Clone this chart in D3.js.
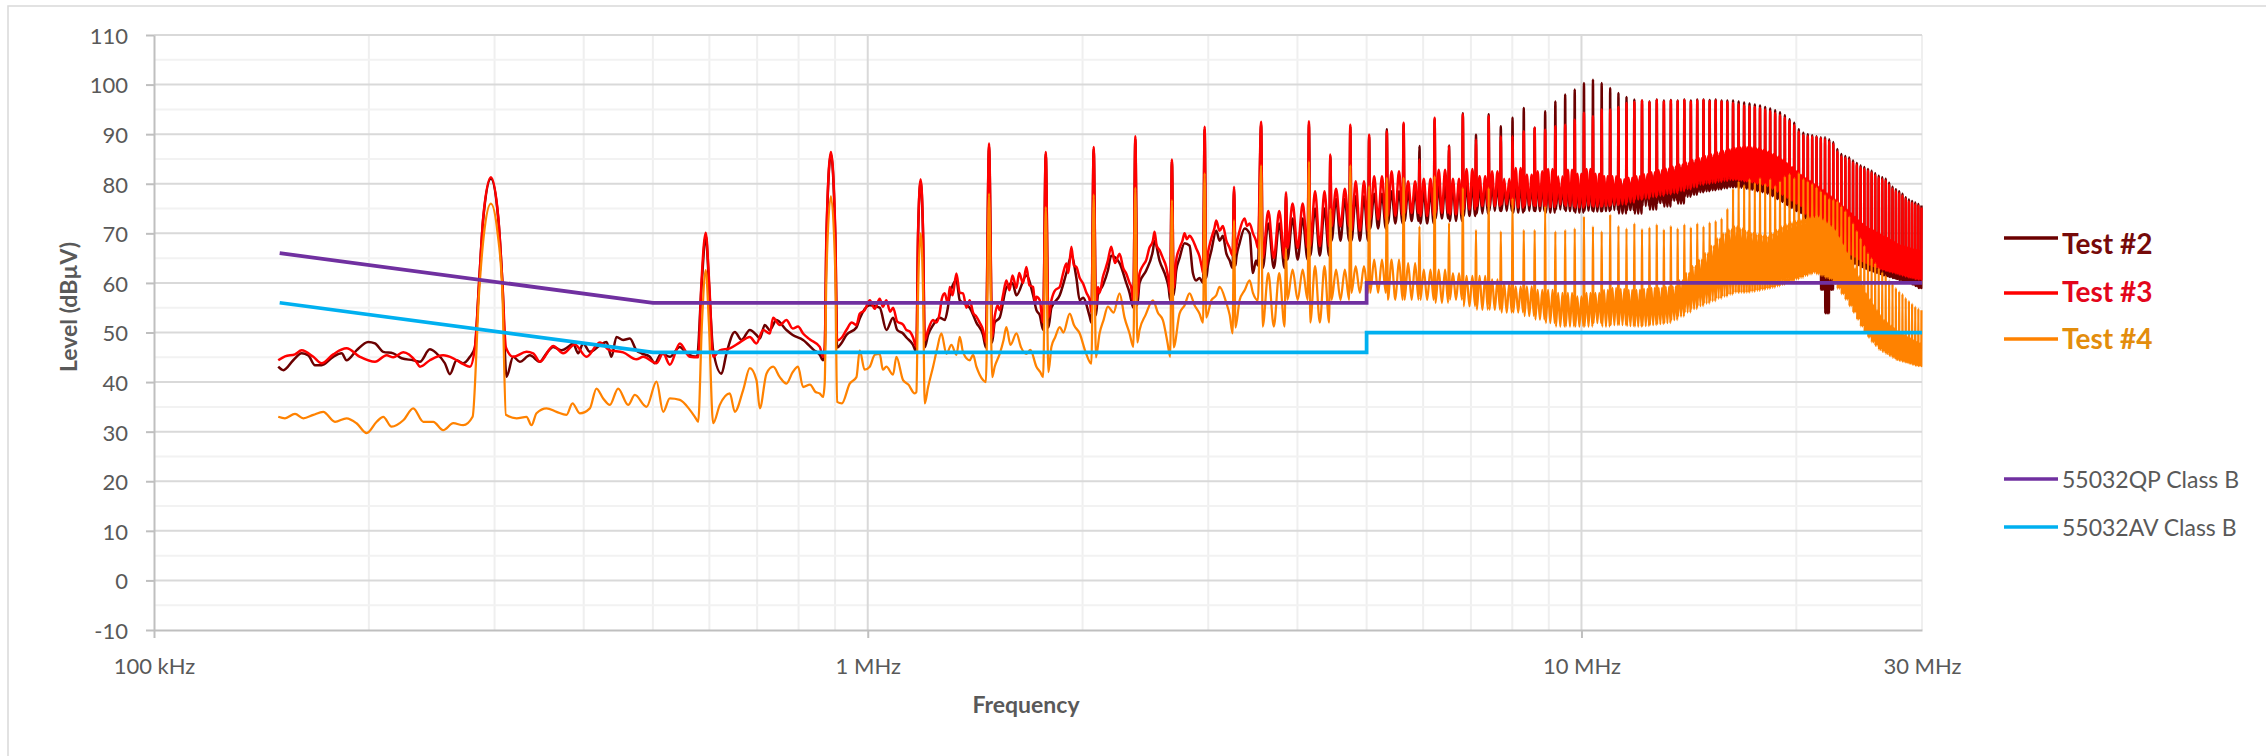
<!DOCTYPE html>
<html>
<head>
<meta charset="utf-8">
<script src="https://cdn.jsdelivr.net/npm/d3@7"></script>
<style>
  html, body { margin: 0; padding: 0; background: #fff; overflow: hidden; }
  svg { display: block; width: 100vw; height: 100vh; font-family: Lato, "Open Sans", sans-serif; }
</style>
</head>
<body>
<svg id="chart" viewBox="0 0 2266 756" preserveAspectRatio="xMidYMid meet"></svg>
<script>
// ---- axis ticks / labels ----
const freqTicks = [0.1, 1, 10, 30];
const freqTickLabels = ['100 kHz', '1 MHz', '10 MHz', '30 MHz'];
const levelTicks = [-10, 0, 10, 20, 30, 40, 50, 60, 70, 80, 90, 100, 110];

const seriesNames = ['Test #2', 'Test #3', 'Test #4'];
const limitNames = ['55032QP Class B', '55032AV Class B'];

// ---- limit lines [MHz, dBuV] ----
const qpLimit = [[0.15, 66], [0.5, 56], [5, 56], [5, 60], [30, 60]];
const avLimit = [[0.15, 56], [0.5, 46], [5, 46], [5, 50], [30, 50]];

// ---- measured traces below 3.55 MHz [MHz, dBuV] ----
const test2Low = [
  [0.1493,43.1],[0.1518,42.4],[0.1567,44.4],[0.1610,45.8],[0.1645,45.4],[0.1681,43.4],[0.1717,43.4],[0.1783,45.1],
  [0.1832,45.8],[0.1861,44.4],[0.1922,46.4],[0.1996,48.1],[0.2040,47.8],[0.2095,46.1],[0.2164,45.8],[0.2223,44.8],
  [0.2308,44.4],[0.2358,44.1],[0.2435,46.6],[0.2488,45.8],[0.2556,43.8],[0.2598,41.6],[0.2654,44.4],[0.2712,43.8],
  [0.2771,45.1],[0.2816,47],[0.2854,60],[0.2893,73],[0.2965,81],[0.3036,73],[0.3077,60],[0.3118,41.1],
  [0.3186,45.1],[0.3255,44.1],[0.3362,45.4],[0.3472,44.1],[0.3548,45.8],[0.3625,47.1],[0.3724,46.4],[0.3805,47.1],
  [0.3866,47.8],[0.3929,45.8],[0.3993,47.8],[0.4080,46.1],[0.4213,47.4],[0.4305,48.1],[0.4375,45.1],[0.4446,49.1],
  [0.4543,48.5],[0.4642,48.8],[0.4742,46.4],[0.4820,45.8],[0.4951,45.1],[0.5031,43.8],[0.5141,45.8],[0.5281,45.1],
  [0.5454,47.1],[0.5573,45.8],[0.5766,45.1],[0.5848,59],[0.593,69.5],[0.5996,59],[0.6073,46.4],[0.6239,41.7],
  [0.6340,45.8],[0.6513,50.1],[0.6654,48.5],[0.6836,50.5],[0.6984,49.5],[0.7060,48.8],[0.7174,51.5],[0.7291,50.5],
  [0.7450,52.5],[0.7693,50.5],[0.7850,49.5],[0.8117,48.5],[0.8400,46.5],[0.8566,45.5],[0.8658,44.4],[0.8705,46],
  [0.8753,69],[0.888,86],[0.9007,69],[0.9059,47],[0.9200,48.0],[0.9335,49.5],[0.9642,51.0],[0.9745,52.8],
  [1.0065,55.5],[1.0394,55.0],[1.0620,50.5],[1.0852,53.0],[1.1000,50.5],[1.1207,49.8],[1.1329,49.0],[1.1575,47.5],
  [1.1700,46.0],[1.1763,69.5],[1.186,80.5],[1.1955,69.5],[1.2019,47.0],[1.2150,49.5],[1.2347,51.5],[1.2615,53.0],
  [1.2820,52.5],[1.2950,55.0],[1.3029,57.5],[1.3312,60.5],[1.3456,56.5],[1.3601,56.0],[1.3896,55.0],[1.4198,52.0],
  [1.4506,49.5],[1.4640,47.0],[1.479,87.5],[1.4940,48.0],[1.5062,52.0],[1.5307,53.0],[1.5639,59.0],[1.5950,60.0],
  [1.6156,57.5],[1.6686,61.5],[1.7049,57.5],[1.7233,54.5],[1.7419,53.5],[1.7610,50.5],[1.776,86],[1.7910,51],
  [1.8087,55.0],[1.8578,57.5],[1.8982,62.0],[1.9290,65.5],[1.9604,61.0],[1.9816,56.5],[2.0030,57.0],[2.0465,53.2],
  [2.0580,52.0],[2.073,87],[2.0880,53.5],[2.1012,57.5],[2.1354,59.5],[2.1701,62.5],[2.1936,65.5],[2.2534,64.0],
  [2.3023,60.0],[2.3272,58.0],[2.3397,56.5],[2.3560,55],[2.371,89],[2.3860,55.5],[2.4035,60.0],[2.4557,62.5],
  [2.5091,66.5],[2.5226,68.5],[2.5636,64.5],[2.6194,61.0],[2.6400,59.0],[2.6530,56.5],[2.668,84.5],[2.6830,57.5],
  [2.7053,62.5],[2.7345,65.0],[2.7790,68.0],[2.8242,67.5],[2.8547,62.0],[2.8850,60.5],[2.9168,61.0],[2.9500,60.0],
  [2.965,91],[2.9800,61],[2.9965,63.5],[3.0300,66.5],[3.0782,70.5],[3.1117,68.5],[3.1450,69.5],[3.1793,66.0],
  [3.2150,64.5],[3.2450,63.0],[3.26,79],[3.2750,63.5],[3.2835,65.0],[3.3190,68.0],[3.3731,71.0],[3.4280,70.0],
  [3.4650,62.0],[3.5000,64.5],[3.5214,63.5]
];

const test3Low = [
  [0.1493,44.4],[0.1526,45.2],[0.1576,45.6],[0.1610,46.4],[0.1672,45.1],[0.1717,43.8],[0.1783,45.6],[0.1861,46.8],
  [0.1943,45.1],[0.2040,44.1],[0.2118,45.4],[0.2164,45.0],[0.2235,46.0],[0.2333,44.0],[0.2358,43.1],[0.2435,44.4],
  [0.2542,45.4],[0.2626,44.8],[0.2712,43.6],[0.2771,43.1],[0.2816,47],[0.2854,60],[0.2893,73.3],[0.2965,81.3],
  [0.3036,73.3],[0.3077,60],[0.3112,47],[0.3186,45.1],[0.3326,46.1],[0.3398,45.8],[0.3472,44.1],[0.3625,47.3],
  [0.3744,45.8],[0.3887,47.6],[0.4036,45.1],[0.4213,48.0],[0.4352,46.4],[0.4543,46.0],[0.4742,44.6],[0.4846,45.1],
  [0.5059,43.8],[0.5169,45.8],[0.5281,43.5],[0.5454,47.8],[0.5633,45.1],[0.5787,45.0],[0.5848,60],[0.593,70.1],
  [0.5996,60],[0.6073,45.1],[0.6205,46.4],[0.6409,46.8],[0.6619,48.0],[0.6836,49.1],[0.6984,47.8],[0.7136,50.5],
  [0.7291,49.8],[0.7370,53.0],[0.7530,51.5],[0.7693,52.5],[0.7850,50.8],[0.7987,51.2],[0.8117,49.8],[0.8300,48.6],
  [0.8566,47.1],[0.8658,45.1],[0.8705,47],[0.8753,70],[0.888,86.4],[0.9007,70],[0.9059,48.4],[0.9200,49.0],
  [0.9335,50.5],[0.9500,52.0],[0.9642,51.5],[0.9745,53.8],[0.9900,54.5],[1.0065,56.5],[1.0230,54.8],[1.0394,56.8],
  [1.0500,55.2],[1.0620,56.5],[1.0750,54.2],[1.0852,55.0],[1.1000,52.2],[1.1207,51.6],[1.1329,50.5],[1.1450,50.2],
  [1.1575,49.0],[1.1700,47.1],[1.1763,70],[1.186,80.9],[1.1955,70],[1.2019,48.4],[1.2150,50.5],[1.2347,52.5],
  [1.2480,52.0],[1.2615,54.0],[1.2700,56.8],[1.2820,57.9],[1.2950,55.8],[1.3029,59.2],[1.3150,57.5],[1.3312,61.9],
  [1.3456,58.0],[1.3601,57.9],[1.3750,55.0],[1.3896,56.5],[1.4050,54.0],[1.4198,53.2],[1.4350,52.0],[1.4506,50.5],
  [1.4640,48.0],[1.479,88.1],[1.4940,49.0],[1.5062,53.2],[1.5200,55.5],[1.5307,54.5],[1.5472,57.5],[1.5639,60.5],
  [1.5800,58.5],[1.5950,61.5],[1.6156,59.0],[1.6300,62.0],[1.6500,60.0],[1.6686,63.2],[1.6850,59.5],[1.7049,59.2],
  [1.7150,56.0],[1.7233,57.2],[1.7419,56.5],[1.7550,53.0],[1.7610,52.0],[1.776,86.4],[1.7910,53],[1.8087,56.5],
  [1.8300,58.5],[1.8578,59.2],[1.8750,61.5],[1.8982,63.9],[1.9100,62.0],[1.9290,67.3],[1.9450,63.5],[1.9604,63.2],
  [1.9816,61.0],[2.0030,59.9],[2.0250,58.0],[2.0465,56.5],[2.0580,54.0],[2.073,87.4],[2.0880,55.0],[2.1012,59.2],
  [2.1126,58.0],[2.1354,61.2],[2.1550,63.0],[2.1701,64.5],[2.1936,67.3],[2.2200,64.0],[2.2534,65.9],[2.2800,63.0],
  [2.3023,61.9],[2.3272,60.0],[2.3397,59.2],[2.3560,56],[2.371,89.6],[2.3860,57],[2.4035,61.9],[2.4300,63.5],
  [2.4557,64.6],[2.4800,67.0],[2.5091,68.5],[2.5226,70.3],[2.5400,67.5],[2.5636,66.6],[2.5913,65.0],[2.6194,63.2],
  [2.6400,60.5],[2.6530,58],[2.668,84.9],[2.6830,59],[2.7053,64.6],[2.7345,67.0],[2.7600,68.5],[2.7790,70.0],
  [2.8000,68.8],[2.8242,69.5],[2.8547,68.6],[2.8850,67.0],[2.9168,65.3],[2.9400,63.0],[2.9500,62],[2.965,91.5],
  [2.9800,63],[2.9965,65.9],[3.0300,69.0],[3.0600,71.0],[3.0782,72.6],[3.1117,70.5],[3.1450,71.5],[3.1793,68.6],
  [3.2150,67.0],[3.2450,65.5],[3.26,79.4],[3.2750,66],[3.2835,67.3],[3.3190,70.5],[3.3731,73.0],[3.4000,71.5],
  [3.4280,72.0],[3.4650,70.0],[3.5000,68.5],[3.5214,67.0]
];

const test4Low = [
  [0.1493,33.0],[0.1526,32.7],[0.1576,33.6],[0.1619,32.7],[0.1672,33.4],[0.1726,34.0],[0.1793,32.0],[0.1861,32.7],
  [0.1922,31.7],[0.1986,29.7],[0.2051,32.0],[0.2095,33.0],[0.2152,31.0],[0.2235,32.3],[0.2308,34.7],[0.2384,32.0],
  [0.2462,32.0],[0.2542,30.3],[0.2626,31.7],[0.2712,31.3],[0.2795,33.0],[0.2854,58],[0.2900,70],[0.2965,76.0],
  [0.3030,70],[0.3077,58],[0.3112,33.4],[0.3221,32.7],[0.3326,33.0],[0.3380,31.3],[0.3435,33.7],[0.3548,34.7],
  [0.3664,34.0],[0.3784,33.4],[0.3858,35.7],[0.3950,33.7],[0.4080,34.7],[0.4168,38.7],[0.4259,36.7],[0.4352,35.4],
  [0.4470,38.7],[0.4617,35.4],[0.4717,37.4],[0.4898,35.0],[0.5059,40.1],[0.5169,34.0],[0.5281,36.7],[0.5454,36.4],
  [0.5633,34.4],[0.5725,33.0],[0.5787,32.0],[0.5858,52],[0.593,62.6],[0.5990,52],[0.6073,31.7],[0.6205,35.4],
  [0.6409,37.7],[0.6513,34.0],[0.6690,38.4],[0.6836,42.8],[0.6984,40.4],[0.7060,34.7],[0.7213,41.7],[0.7370,43.1],
  [0.7530,41.0],[0.7693,39.7],[0.7850,42.0],[0.7987,43.1],[0.8117,39.0],[0.8300,39.5],[0.8450,38.0],[0.8566,37.7],
  [0.8658,37.0],[0.8705,40],[0.8753,62],[0.888,77.5],[0.9007,62],[0.9059,36],[0.9200,35.7],[0.9436,39.7],
  [0.9642,41.0],[0.9745,46.4],[0.9900,42.5],[1.0065,43.1],[1.0230,45.5],[1.0394,45.7],[1.0500,42.5],[1.0620,43.1],
  [1.0852,41.5],[1.0969,45.1],[1.1207,40.4],[1.1400,39.5],[1.1637,37.7],[1.1700,38],[1.1763,58],[1.186,70.0],
  [1.1955,58],[1.2019,35.7],[1.2150,39.0],[1.2347,43.1],[1.2500,46.5],[1.2683,49.8],[1.2889,45.7],[1.3100,47.5],
  [1.3312,45.5],[1.3456,49.1],[1.3601,46.0],[1.3896,44.4],[1.4050,45.5],[1.4198,43.1],[1.4350,41.5],[1.4506,40.4],
  [1.4640,40],[1.479,78.0],[1.4940,41],[1.5062,43.1],[1.5307,45.7],[1.5500,48.5],[1.5639,51.1],[1.5850,47.5],
  [1.6156,49.8],[1.6400,47.0],[1.6686,45.7],[1.6900,46.5],[1.7233,43.1],[1.7450,42.0],[1.7610,41.0],[1.776,75.3],
  [1.7910,42],[1.8087,47.1],[1.8300,49.0],[1.8578,51.1],[1.8800,50.0],[1.9187,53.8],[1.9450,51.5],[1.9816,49.8],
  [2.0200,46.0],[2.0576,43.7],[2.073,77.8],[2.0880,45],[2.1126,49.8],[2.1400,52.5],[2.1701,55.2],[2.2100,54.0],
  [2.2534,57.9],[2.2900,53.0],[2.3272,49.8],[2.3560,47.1],[2.371,79.2],[2.3860,48],[2.4035,50.5],[2.4500,53.5],
  [2.5091,56.5],[2.5500,54.0],[2.5913,52.5],[2.6300,48.0],[2.6530,45.1],[2.668,76.7],[2.6830,47],[2.7345,53.8],
  [2.7800,55.5],[2.8242,57.9],[2.8700,55.5],[2.9168,53.8],[2.9500,52],[2.965,82.1],[2.9800,53],[3.0300,56.5],
  [3.0782,57.5],[3.1117,59.2],[3.1793,56.0],[3.2150,53.5],[3.2450,49.8],[3.26,72.6],[3.2750,51],[3.3190,56.5],
  [3.3731,58.5],[3.4280,60.5],[3.4650,58.0],[3.5214,56.5]
];

// ---- harmonics of the ~296.5 kHz switching frequency, 12th to 101st [MHz] ----
const harmonicMHz = [
  3.558, 3.855, 4.151, 4.448, 4.744, 5.041, 5.337, 5.634, 5.930, 6.227, 6.523, 6.820, 7.116, 7.413, 7.709,
  8.006, 8.302, 8.599, 8.895, 9.192, 9.488, 9.785, 10.081, 10.378, 10.674, 10.971, 11.267, 11.564, 11.860,
  12.157, 12.453, 12.750, 13.046, 13.343, 13.639, 13.936, 14.232, 14.529, 14.825, 15.122, 15.418, 15.715,
  16.011, 16.308, 16.604, 16.901, 17.197, 17.494, 17.790, 18.087, 18.383, 18.680, 18.976, 19.273, 19.569,
  19.866, 20.162, 20.459, 20.755, 21.052, 21.348, 21.645, 21.941, 22.238, 22.534, 22.831, 23.127, 23.424,
  23.720, 24.017, 24.313, 24.610, 24.906, 25.203, 25.499, 25.796, 26.092, 26.389, 26.685, 26.982, 27.278,
  27.575, 27.871, 28.168, 28.464, 28.761, 29.057, 29.354, 29.650, 29.947
];

// spike tops at each harmonic [dBuV]
const test2Peak = [
  92.0, 78.0, 92.0, 85.5, 91.5, 89.5, 91.0, 92.0, 87.6, 93.0, 87.7, 94.2, 89.9, 94.0, 91.6, 93.3, 95.3, 91.3,
  94.6, 96.6, 98.0, 99.0, 100.3, 101.0, 100.3, 99.3,
  98.3, 97.5, 97.0, 96.8, 96.6, 97.0, 96.8, 96.9, 96.8, 97.0, 96.8, 97.0, 97.0, 96.9, 97.0, 96.8, 96.8,
  96.8, 96.6, 96.4, 96.2, 96.0, 95.8, 95.5, 95.2, 94.8, 94.4, 93.8, 93.0, 92.3, 91.0, 90.3, 90.0, 89.8, 89.6,
  89.4, 89.4, 89.0, 88.4, 87.0, 86.0, 85.6, 85.3, 84.7, 84.2, 83.7, 83.4, 83.0, 82.6, 82.1, 81.6, 81.3, 81.0,
  80.2, 79.4, 78.9, 78.5, 78.0, 77.3, 76.8, 76.5, 76.2, 75.9, 75.6
];
const test3Peak = [
  92.5, 78.3, 92.6, 85.9, 91.9, 89.9, 90.6, 92.3, 84.9, 93.3, 87.6, 94.0, 88.9, 93.6, 89.6, 89.6, 90.6, 91.3,
  90.9, 91.6, 91.9, 92.9, 94.3, 93.6, 95.0, 95.0,
  95.5, 96.3, 96.5, 96.8, 96.5, 96.9, 96.6, 96.8, 96.7, 96.9, 96.6, 96.8, 96.9, 96.7, 96.8, 96.6, 96.5,
  96.3, 96.0, 95.8, 95.6, 95.5, 95.3, 95.0, 94.6, 94.2, 93.8, 93.3, 92.6, 91.8, 90.5, 89.8, 89.6, 89.5, 89.4,
  89.2, 89.0, 88.5, 88.0, 86.5, 85.5, 85.2, 84.9, 84.3, 83.8, 83.3, 83.0, 82.6, 82.2, 81.7, 81.2, 80.9, 80.6,
  79.8, 79.0, 78.5, 78.1, 77.6, 76.9, 76.4, 76.1, 75.8, 75.5, 75.2
];
const test4Peak = [
  83.7, 67.0, 84.5, 74.9, 83.7, 79.5, 81.2, 81.2, 71.4, 81.5, 72.1, 79.2, 70.7, 79.2, 70.4, 77.1, 70.7, 70.7,
  75.5, 70.4, 70.7, 71.0, 73.4, 71.4, 70.4, 73.8,
  71.5, 71.0, 72.0, 70.9, 71.2, 71.8, 70.8, 71.5, 71.0, 71.8, 71.2, 72.0, 71.4, 72.2, 72.5, 73.0, 75.0,
  79.0, 80.5, 79.8, 81.0, 80.2, 81.2, 80.0, 81.0, 79.6, 80.5, 81.5, 82.0, 81.2, 82.2, 81.0, 80.5, 80.0, 79.3,
  78.5, 77.8, 77.0, 76.8, 76.5, 75.5, 74.5, 73.4, 72.0, 70.5, 69.0, 67.5, 66.0, 65.0, 64.0, 63.0, 62.2, 61.5,
  60.5, 59.8, 59.0, 58.3, 57.8, 57.0, 56.4, 55.8, 55.2, 54.8, 54.5
];

// between-harmonic band: lower edge (floor) and upper edge (top) [dBuV]
const test2Floor = [
  63.0, 64.7, 65.5, 68.5, 68.5, 71.0, 72.0, 72.5, 72.0, 73.0, 72.5, 73.5, 74.0, 74.5, 74.5, 74.2, 74.5, 74.5,
  74.2, 74.8, 74.5, 74.2, 74.6, 74.4, 74.5, 74.7,
  74.0, 74.7, 74.0, 75.5, 74.8, 76.1, 75.4, 76.6, 76.0, 77.4, 77.8, 78.3, 78.5, 78.7, 78.9, 79.1, 79.3, 79.3,
  79.2, 79.0, 78.8, 78.5, 78.3, 78.0, 77.5, 76.9, 76.3, 75.7, 75.1, 74.5,
  74.1, 73.0, 71.5, 68.0, 64.5, 58.6, 53.9, 58.6, 63.0, 63.5, 64.0, 64.2, 64.0, 63.8, 63.6, 63.2, 62.8, 62.5,
  62.3, 62.0, 61.8, 61.5, 61.4, 61.2, 61.0, 60.8, 60.6, 60.4, 60.2, 60.0, 59.7, 59.4, 59.0
];
const test2Top = [
  72.0, 73.0, 75.0, 77.0, 77.5, 78.0, 78.5, 78.5, 78.5, 79.5, 79.5, 80.0, 79.5, 80.0, 79.5, 80.5, 80.0, 80.5,
  80.5, 80.0, 80.5, 80.5, 81.0, 80.5, 80.5, 80.5,
  80.4, 80.7, 81.0, 81.4, 81.8, 82.2, 82.6, 83.0, 83.4, 83.8, 84.3, 84.7, 85.1, 85.4, 85.8, 86.1, 86.4, 86.7,
  86.8, 86.9, 86.8, 86.6, 86.3, 86.0, 85.5, 85.0, 84.4, 83.7, 82.9, 82.1, 81.3, 80.7, 80.1, 79.5, 79.0, 78.3,
  77.6, 77.0, 76.3, 75.6, 74.9, 74.3, 73.6, 72.9, 72.2, 71.5, 70.9, 70.5, 70.1, 69.7, 69.3, 68.9, 68.6, 68.2,
  67.9, 67.5, 67.2, 67.0, 66.8, 66.6, 66.4, 66.3, 66.2
];
const test3Floor = [
  65.0, 67.0, 67.4, 71.4, 70.5, 72.8, 73.5, 74.1, 73.5, 74.1, 73.8, 74.8, 75.5, 75.5, 75.8, 75.2, 75.6, 75.5,
  75.3, 75.8, 75.5, 75.2, 75.6, 75.4, 75.5, 75.7,
  75.8, 76.2, 76.8, 77.0, 77.3, 77.6, 77.9, 78.1, 78.5, 78.9, 79.3, 79.8, 80.0, 80.2, 80.4, 80.6, 80.8, 80.8,
  80.7, 80.5, 80.3, 80.0, 79.8, 79.5, 79.0, 78.4, 77.8, 77.2,
  76.6, 76.0, 75.5, 74.0, 72.5, 71.0, 69.8, 68.6, 67.8, 67.2, 66.8, 66.5, 66.2, 66.0, 65.7, 65.3, 64.8, 64.4,
  64.0, 63.7, 63.4, 63.2, 62.9, 62.7, 62.5, 62.3, 62.1, 61.9, 61.7, 61.5, 61.3, 61.1, 61.0, 60.8, 60.7
];
const test3Top = [
  74.5, 76.0, 78.5, 79.0, 80.5, 81.5, 82.5, 80.5, 81.0, 82.8, 81.0, 83.0, 81.5, 82.5, 81.0, 83.2, 81.8, 82.5,
  83.0, 81.5, 82.8, 82.0, 83.0, 82.0, 81.5, 81.5,
  80.9, 81.2, 81.5, 81.9, 82.3, 82.7, 83.1, 83.5, 83.9, 84.3, 84.8, 85.2, 85.6, 85.9, 86.3, 86.6, 86.9, 87.2,
  87.3, 87.4, 87.3, 87.1, 86.8, 86.5, 86.0, 85.5, 84.9, 84.2, 83.4, 82.6, 81.8, 81.2, 80.6, 80.0, 79.5, 78.8,
  78.1, 77.5, 76.8, 76.1, 75.4, 74.8, 74.1, 73.4, 72.7, 72.0, 71.4, 71.0, 70.6, 70.2, 69.8, 69.4, 69.1, 68.7,
  68.4, 68.0, 67.7, 67.5, 67.3, 67.1, 66.9, 66.8, 66.7
];
const test4Floor = [
  51.2, 56.6, 52.0, 56.6, 58.0, 58.0, 56.6, 56.6, 56.6, 56.0, 56.6, 55.3, 54.6, 54.6, 54.0, 54.0, 53.3, 52.6,
  51.9, 51.2, 51.2, 51.2, 51.2, 51.9, 51.2, 51.5,
  51.5, 51.3, 51.2, 51.3, 51.5, 51.7, 51.9, 52.5, 53.2, 54.0, 54.7, 55.3, 55.8, 56.3, 56.8, 57.2, 57.6, 58.0,
  58.0, 58.0, 58.2, 58.4, 58.6, 58.8, 59.0, 59.3, 59.6, 60.0, 60.3, 60.7, 61.0, 61.4, 61.7, 62.0, 61.7, 61.4,
  61.0, 60.7, 59.8, 58.8, 57.7, 56.6, 55.3, 54.0, 52.6, 51.2, 50.0, 49.0, 48.0, 47.3, 46.5, 46.1, 45.7, 45.3,
  44.9, 44.5, 44.3, 44.1, 43.9, 43.7, 43.5, 43.3, 43.2
];
const test4Top = [
  62.0, 62.7, 63.4, 62.7, 63.4, 64.7, 64.7, 64.0, 62.7, 62.7, 62.0, 61.4, 61.4, 60.7, 60.0, 59.3, 59.3, 58.6,
  58.6, 58.0, 58.0, 57.3, 58.0, 58.0, 58.6, 59.0,
  58.8, 58.6, 58.6, 58.8, 59.0, 59.0, 59.2, 59.3, 60.5, 62.0, 63.4, 64.7, 66.0, 67.5, 69.0, 70.0, 70.8, 71.4,
  71.0, 70.5, 70.1, 69.8, 69.6, 69.4, 70.0, 70.7, 71.4, 71.8, 72.2, 72.5, 72.8, 73.0, 73.2, 73.3, 73.4, 72.8,
  72.2, 71.5, 70.7, 69.3, 67.8, 66.2, 64.7, 63.0, 61.4, 59.7, 58.0, 56.8, 55.7, 54.6, 53.6, 52.6, 52.1, 51.5,
  51.0, 50.4, 49.9, 49.6, 49.2, 48.9, 48.5, 48.2, 47.9
];

// ---- layout ----
const width = 2266;
const height = 756;
const margin = { left: 154, right: 344, top: 35, bottom: 126 };
const innerWidth = width - margin.left - margin.right;
const innerHeight = height - margin.top - margin.bottom;

const svg = d3.select('#chart');

// chart border (only the top and left edges fall inside the picture)
svg.append('rect')
  .attr('x', 8).attr('y', 6)
  .attr('width', width).attr('height', height)
  .attr('fill', 'none')
  .attr('stroke', '#d9d9d9')
  .attr('stroke-width', 1.5);

const x = d3.scaleLog().domain([0.1, 30]).range([0, innerWidth]);
const y = d3.scaleLinear().domain([-10, 110]).range([innerHeight, 0]);

const plot = svg.append('g').attr('transform', `translate(${margin.left}, ${margin.top})`);

// gridlines
const isDecade = (d) => Math.abs(Math.log10(d) - Math.round(Math.log10(d))) < 1e-6;
const grid = plot.append('g').attr('class', 'grid');
grid.selectAll('line.vminor')
  .data(x.ticks().filter((d) => !isDecade(d)))
  .enter().append('line')
  .attr('x1', (d) => x(d)).attr('x2', (d) => x(d))
  .attr('y1', 0).attr('y2', innerHeight)
  .attr('stroke', '#efefef').attr('stroke-width', 2);
grid.selectAll('line.hminor')
  .data(levelTicks.slice(0, -1).map((d) => d + 5))
  .enter().append('line')
  .attr('x1', 0).attr('x2', innerWidth)
  .attr('y1', (d) => y(d)).attr('y2', (d) => y(d))
  .attr('stroke', '#f2f2f2').attr('stroke-width', 2);
grid.selectAll('line.vmajor')
  .data(x.ticks().filter((d) => isDecade(d) && d > 0.1))
  .enter().append('line')
  .attr('x1', (d) => x(d)).attr('x2', (d) => x(d))
  .attr('y1', 0).attr('y2', innerHeight)
  .attr('stroke', '#d9d9d9').attr('stroke-width', 2);
grid.selectAll('line.hmajor')
  .data(levelTicks.slice(1))
  .enter().append('line')
  .attr('x1', 0).attr('x2', innerWidth)
  .attr('y1', (d) => y(d)).attr('y2', (d) => y(d))
  .attr('stroke', '#d9d9d9').attr('stroke-width', 2);

// axes
const yAxis = d3.axisLeft(y).tickValues(levelTicks)
  .tickFormat((d) => String(d))
  .tickSize(8).tickSizeOuter(0).tickPadding(18);
const yAxisContainer = plot.append('g').attr('class', 'y-axis-container').call(yAxis);
const xAxis = d3.axisBottom(x).tickValues(freqTicks)
  .tickFormat((d, i) => freqTickLabels[i]).tickSize(8).tickSizeOuter(0);
const xAxisContainer = plot.append('g')
  .attr('class', 'x-axis-container')
  .attr('transform', `translate(0, ${innerHeight})`)
  .call(xAxis);

[yAxisContainer, xAxisContainer].forEach((c) => {
  c.attr('font-size', 22).attr('font-family', 'Lato, "Open Sans", sans-serif');
  c.select('.domain').attr('stroke', '#bfbfbf').attr('stroke-width', 2);
  c.selectAll('.tick line').attr('stroke', '#bfbfbf').attr('stroke-width', 2);
  c.selectAll('.tick text').attr('fill', '#595959');
});
yAxisContainer.selectAll('.tick text').attr('dy', '0.38em');
xAxisContainer.selectAll('.tick text').attr('y', 44).attr('dy', 0);
xAxisContainer.selectAll('.tick line').filter((d) => d === 30).remove();

// axis titles
svg.append('text')
  .attr('x', 1026).attr('y', 713)
  .attr('text-anchor', 'middle')
  .attr('fill', '#595959')
  .style('font-size', '23px').style('font-weight', 700)
  .text('Frequency');
svg.append('text')
  .attr('transform', 'translate(77, 307) rotate(-90)')
  .attr('text-anchor', 'middle')
  .attr('fill', '#595959')
  .style('font-size', '23px').style('font-weight', 700)
  .text('Level (dBµV)');

// ---- traces ----
// each gap between two harmonics swings floor -> top -> floor -> top -> floor
const gapShape = [0.06, 0.28, 0.5, 0.72, 0.94];

function buildTrace(low, peak, floor, top) {
  const points = low.slice();
  harmonicMHz.forEach((f, i) => {
    points.push([f, peak[i]]);
    if (i < harmonicMHz.length - 1) {
      const step = harmonicMHz[i + 1] - f;
      gapShape.forEach((g, j) => points.push([f + step * g, j % 2 ? top[i] : floor[i]]));
    }
  });
  return points;
}

const traces = [
  { name: seriesNames[0], color: '#6b0000', width: 2.5, data: buildTrace(test2Low, test2Peak, test2Floor, test2Top) },
  { name: seriesNames[1], color: '#ff0000', width: 2.5, data: buildTrace(test3Low, test3Peak, test3Floor, test3Top) },
  { name: seriesNames[2], color: '#ff8200', width: 2.25, data: buildTrace(test4Low, test4Peak, test4Floor, test4Top) },
];
const limits = [
  { name: limitNames[0], color: '#7030a0', width: 3.75, data: qpLimit },
  { name: limitNames[1], color: '#00b0f0', width: 3.75, data: avLimit },
];

const traceLine = d3.line()
  .x((d) => x(d[0]))
  .y((d) => y(d[1]))
  .curve(d3.curveMonotoneX);
const limitLine = d3.line()
  .x((d) => x(d[0]))
  .y((d) => y(d[1]));

const dataContainer = plot.append('g').attr('class', 'data-container');
dataContainer.selectAll('path.trace')
  .data(traces)
  .enter().append('path')
  .attr('class', 'trace')
  .attr('d', (d) => traceLine(d.data))
  .attr('fill', 'none')
  .attr('stroke', (d) => d.color)
  .attr('stroke-width', (d) => d.width)
  .attr('stroke-linejoin', 'round');
dataContainer.selectAll('path.limit')
  .data(limits)
  .enter().append('path')
  .attr('class', 'limit')
  .attr('d', (d) => limitLine(d.data))
  .attr('fill', 'none')
  .attr('stroke', (d) => d.color)
  .attr('stroke-width', (d) => d.width);

// ---- legend ----
const legendItems = [
  { name: seriesNames[0], color: traces[0].color, text: '#760a0a', bold: true, y: 238, base: 254 },
  { name: seriesNames[1], color: traces[1].color, text: '#e3061b', bold: true, y: 293, base: 302 },
  { name: seriesNames[2], color: traces[2].color, text: '#e38d0c', bold: true, y: 339, base: 349 },
  { name: limitNames[0], color: limits[0].color, text: '#595959', bold: false, y: 479, base: 488 },
  { name: limitNames[1], color: limits[1].color, text: '#595959', bold: false, y: 527, base: 536 },
];
const legend = svg.append('g').attr('class', 'legend');
const item = legend.selectAll('g').data(legendItems).enter().append('g');
item.append('line')
  .attr('x1', 2004).attr('x2', 2058)
  .attr('y1', (d) => d.y).attr('y2', (d) => d.y)
  .attr('stroke', (d) => d.color)
  .attr('stroke-width', 3.5);
item.append('text')
  .attr('x', 2062)
  .attr('y', (d) => d.base)
  .attr('fill', (d) => d.text)
  .style('font-size', (d) => (d.bold ? '28px' : '23px'))
  .style('font-weight', (d) => (d.bold ? 700 : 400))
  .text((d) => d.name);
</script>
</body>
</html>
